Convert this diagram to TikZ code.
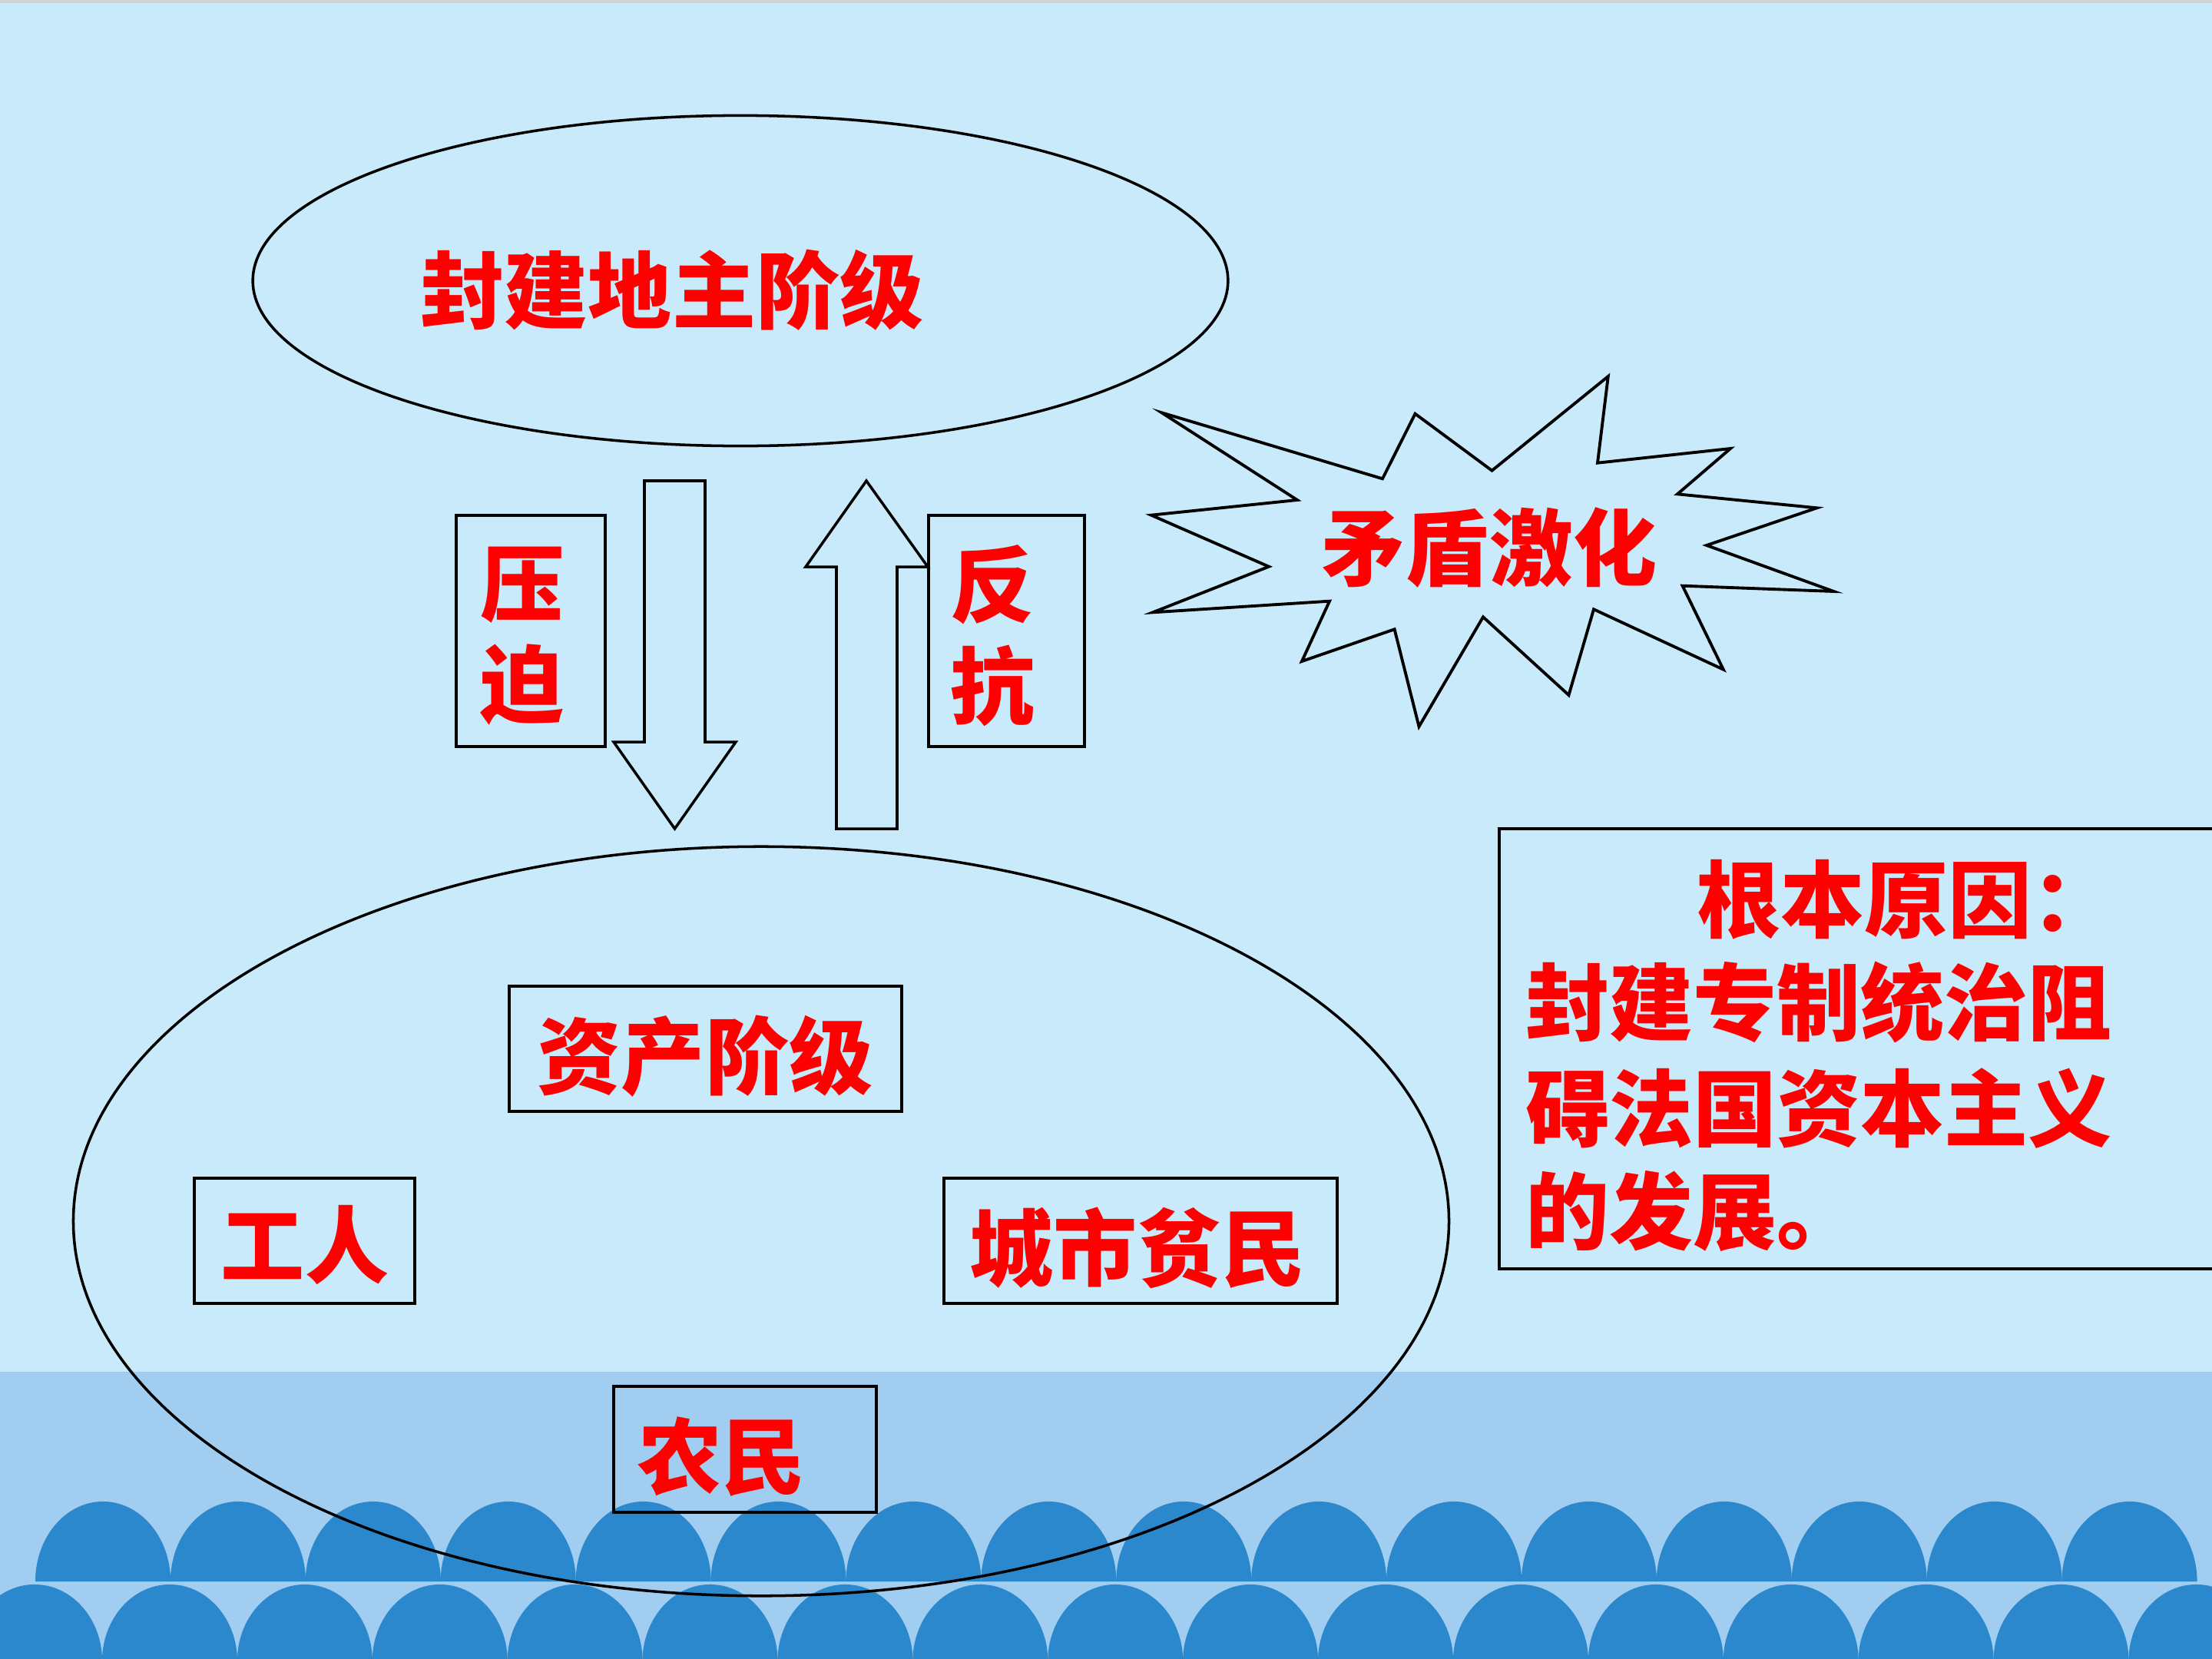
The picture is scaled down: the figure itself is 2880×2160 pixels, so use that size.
\documentclass[tikz,border=0pt]{standalone}
\usepackage{fontspec}
\newfontfamily\cjk{Noto Sans CJK SC}
\usetikzlibrary{shapes.geometric}
\definecolor{bgtop}{HTML}{C8EAFB}
\definecolor{bandblue}{HTML}{A0CDF0}
\definecolor{waveblue}{HTML}{2B88CC}
\begin{document}
\begin{tikzpicture}[x=0.01cm,y=-0.01cm,
  lbl/.style={text=red, font=\cjk\bfseries\fontsize{31}{37.6}\selectfont, inner sep=0pt, align=center},
  outline/.style={draw=black, line width=1pt},
  boxnode/.style={outline, rectangle, inner sep=0pt},
  wave/.style={fill=waveblue}]
\useasboundingbox (0,0) rectangle (2880,2160);
\clip (0,0) rectangle (2880,2160);
% background
\fill[bgtop] (0,0) rectangle (2880,2160);
\fill[gray!35] (0,0) rectangle (2880,4);
\fill[bandblue] (0,1786) rectangle (2880,2160);
% waves
\foreach \k in {0,...,15} {
  \fill[wave] ({134+175.9*\k-88},2059) arc[start angle=180, end angle=0, x radius=0.88cm, y radius=1.04cm] -- cycle;
}
\foreach \k in {-1,...,16} {
  \fill[wave] ({45+175.9*\k-88},2163) arc[start angle=180, end angle=0, x radius=0.88cm, y radius=1.00cm] -- cycle;
}
% ellipses
\node[outline, ellipse, minimum width=12.69cm, minimum height=4.30cm, inner sep=0pt] (lords) at (964,365.5) {};
\node[outline, ellipse, minimum width=17.90cm, minimum height=9.75cm, inner sep=0pt] (third) at (991,1590) {};
\node[lbl] (tlords) at (875,378) {封建地主阶级};
% block arrows
\draw[outline, line join=miter] (839,626) -- (918,626) -- (918,966) -- (958,966) -- (878.5,1079) -- (799,966) -- (839,966) -- cycle;
\draw[outline, line join=miter] (1128,626) -- (1208,738) -- (1168,738) -- (1168,1079) -- (1089,1079) -- (1089,738) -- (1049,738) -- cycle;
% side boxes
\node[boxnode, minimum width=1.94cm, minimum height=3.01cm] (boxyp) at (691,821.5) {};
\node[lbl] (typ) at (680,828) {压\\迫};
\node[boxnode, minimum width=2.03cm, minimum height=3.01cm] (boxfk) at (1310.5,821.5) {};
\node[lbl] (tfk) at (1292,828) {反\\抗};
% starburst
\draw[outline, line width=1.1pt, line join=miter] (1512.5,537.3) -- (1800,623.3) -- (1842.5,538.7) -- (1942.5,612.7) -- (2093.8,490) -- (2080,602.7) -- (2253,584) -- (2184,643.3) -- (2365.6,661.3) -- (2222,710) -- (2387.5,770) -- (2190.6,762.7) -- (2243.8,871.7) -- (2075,793.3) -- (2042.5,905) -- (1931,803.3) -- (1847.5,946) -- (1815.6,819.3) -- (1695,861) -- (1731,782.7) -- (1501,797.3) -- (1652,737.7) -- (1498.8,670.7) -- (1689,651) -- cycle;
\node[lbl] (tburst) at (1939,713) {矛盾激化};
% classes
\node[boxnode, minimum width=5.11cm, minimum height=1.63cm] (bbour) at (918.5,1365.5) {};
\node[lbl] (tbour) at (918,1375) {资产阶级};
\node[boxnode, minimum width=2.87cm, minimum height=1.63cm] (bwork) at (396.5,1615.5) {};
\node[lbl] (twork) at (397,1621) {工人};
\node[boxnode, minimum width=5.12cm, minimum height=1.63cm] (bpoor) at (1485,1615.5) {};
\node[lbl] (tpoor) at (1481,1625) {城市贫民};
\node[boxnode, minimum width=3.42cm, minimum height=1.64cm] (bpeas) at (970,1887) {};
\node[lbl] (tpeas) at (939.5,1897) {农民};
% right box
\draw[outline] (2900,1079) -- (1952,1079) -- (1952,1652) -- (2900,1652);
\coordinate (rbox) at (1952,1079);
\node[lbl, anchor=west] (r1) at (2209,1171) {根本原因：};
\node[lbl, anchor=west] (r2) at (1986,1305) {封建专制统治阻};
\node[lbl, anchor=west] (r3) at (1986,1443) {碍法国资本主义};
\node[lbl, anchor=west] (r4) at (1986,1577) {的发展。};
\end{tikzpicture}
\end{document}
